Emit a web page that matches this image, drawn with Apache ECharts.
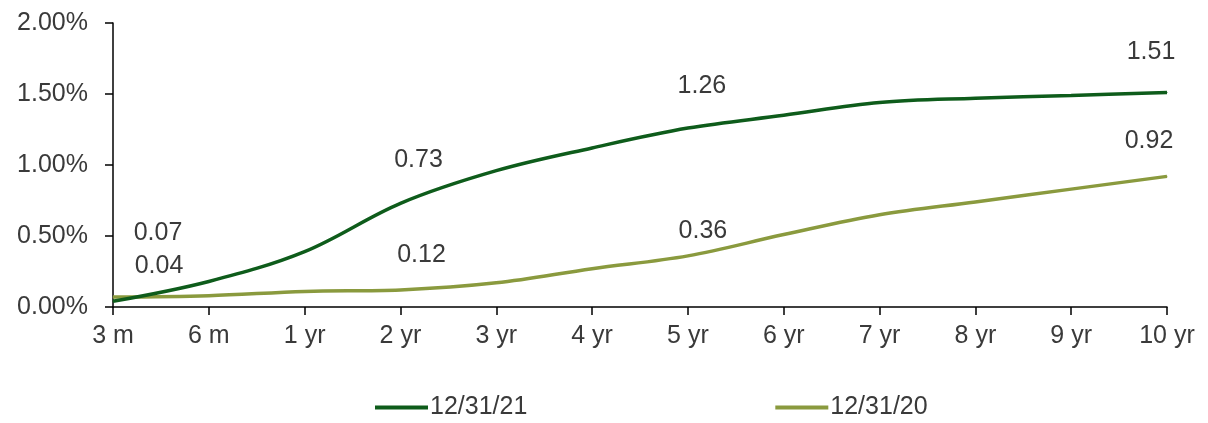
<!DOCTYPE html>
<html>
<head>
<meta charset="utf-8">
<title>Treasury yield curve</title>
<script src="https://cdn.jsdelivr.net/npm/echarts@6/dist/echarts.min.js"></script>
<style>
  html, body { margin: 0; padding: 0; background: #ffffff; }
  #chart { width: 1208px; height: 423px; }
</style>
</head>
<body>
<div id="chart"></div>
<script>
// Maturities along the curve
const maturities = ['3 m', '6 m', '1 yr', '2 yr', '3 yr', '4 yr', '5 yr', '6 yr', '7 yr', '8 yr', '9 yr', '10 yr'];

// Yields in percent
const yields2021 = [0.04, 0.18, 0.39, 0.73, 0.96, 1.12, 1.26, 1.35, 1.44, 1.47, 1.49, 1.51];
const yields2020 = [0.07, 0.08, 0.11, 0.12, 0.17, 0.27, 0.36, 0.51, 0.65, 0.74, 0.83, 0.92];

const seriesNames = ['12/31/21', '12/31/20'];

// Value labels shown only on selected maturities, with their label offsets
const labelOffsets2021 = { 0: [46, -35], 3: [18, -43], 6: [14, -42], 11: [-16, -40] };
const labelOffsets2020 = { 0: [45, -64], 3: [21, -35], 6: [15, -25], 11: [-18, -35] };

const textColor = '#3a3a3a';
const fontFamily = '"Liberation Sans", Arial, sans-serif';

function withLabels(values, offsets) {
  return values.map(function (v, i) {
    if (offsets[i]) {
      return {
        value: v,
        label: {
          show: true,
          position: 'inside',
          offset: offsets[i],
          formatter: function (p) { return p.value.toFixed(2); },
          color: textColor,
          fontSize: 25,
          fontFamily: fontFamily
        }
      };
    }
    return v;
  });
}

const chart = echarts.init(document.getElementById('chart'), null, { renderer: 'canvas' });

chart.setOption({
  animation: false,
  backgroundColor: '#ffffff',
  grid: { left: 113, right: 41, top: 23, bottom: 116, containLabel: false },
  legend: {
    data: seriesNames,
    left: 370,
    top: 390,
    itemGap: 248,
    itemWidth: 53,
    itemHeight: 4,
    icon: 'rect',
    textStyle: { color: textColor, fontSize: 25, fontFamily: fontFamily, padding: [0, 0, 0, -3] }
  },
  xAxis: {
    type: 'category',
    data: maturities,
    boundaryGap: false,
    axisLine: { show: true, lineStyle: { color: '#000000', width: 1.5 } },
    axisTick: { show: true, length: 8, alignWithLabel: true, lineStyle: { color: '#000000', width: 1.5 } },
    axisLabel: { color: textColor, fontSize: 25, fontFamily: fontFamily, margin: 17 },
    splitLine: { show: false }
  },
  yAxis: {
    type: 'value',
    min: 0,
    max: 2,
    interval: 0.5,
    axisLine: { show: true, lineStyle: { color: '#000000', width: 1.5 } },
    axisTick: { show: true, length: 8, lineStyle: { color: '#000000', width: 1.5 } },
    axisLabel: {
      color: textColor, fontSize: 25, fontFamily: fontFamily, margin: 25,
      formatter: function (v) { return v.toFixed(2) + '%'; }
    },
    splitLine: { show: false }
  },
  series: [
    {
      name: seriesNames[0],
      type: 'line',
      smooth: 0.35,
      symbol: 'circle',
      symbolSize: 1,
      showSymbol: true,
      color: '#0E5C1B',
      lineStyle: { width: 3.5, color: '#0E5C1B' },
      itemStyle: { color: '#0E5C1B' },
      z: 3,
      data: withLabels(yields2021, labelOffsets2021)
    },
    {
      name: seriesNames[1],
      type: 'line',
      smooth: 0.35,
      symbol: 'circle',
      symbolSize: 1,
      showSymbol: true,
      color: '#8A9A3E',
      lineStyle: { width: 3.5, color: '#8A9A3E' },
      itemStyle: { color: '#8A9A3E' },
      z: 2,
      data: withLabels(yields2020, labelOffsets2020)
    }
  ]
});
</script>
</body>
</html>
